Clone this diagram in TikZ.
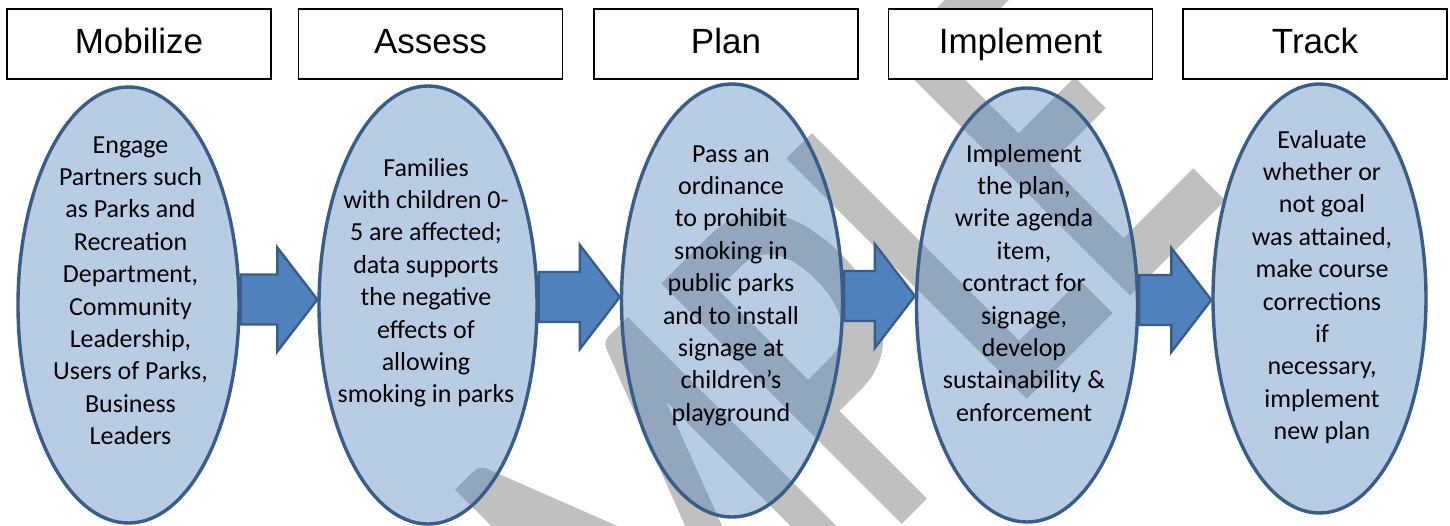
\documentclass[tikz,border=0pt]{standalone}
\usepackage{fontspec}
\setmainfont{Carlito}
\newfontfamily\hdfont{Liberation Sans}
\newfontfamily\wmfont[FakeBold=1.5]{Carlito}
\usetikzlibrary{shapes.geometric,calc}
\definecolor{ellfill}{HTML}{4F81BD}
\definecolor{elledge}{HTML}{385D8A}
\definecolor{wmgray}{HTML}{C0C0C0}
\newcommand{\mlines}[1]{\begin{tabular}[t]{@{}c@{}}#1\end{tabular}}
\newcommand{\blockarr}[3]{\draw[barrow] let \p1=(#1.east), \p2=(#2.west) in
  (\x1,#3-25) -- (\x2-40,#3-25) -- (\x2-40,#3-52) -- (\x2,#3) --
  (\x2-40,#3+52) -- (\x2-40,#3+25) -- (\x1,#3+25) -- cycle;}
\begin{document}
\begin{tikzpicture}[x=1pt,y=-1pt,
  hdbox/.style={draw=black, line width=1.2pt, fill=white, minimum width=264pt, minimum height=70pt, inner sep=0pt},
  hdtext/.style={font=\hdfont\fontsize{35}{40}\selectfont, anchor=base, inner sep=0pt},
  ell/.style={ellipse, draw=elledge, line width=3.4pt, fill=ellfill, fill opacity=0.4, draw opacity=1, inner sep=0pt},
  body/.style={font=\fontsize{26}{32.4}\selectfont, anchor=base, inner sep=0pt},
  barrow/.style={draw=elledge, line width=2.4pt, fill=ellfill, line join=miter},
  wm/.style={font=\wmfont\fontsize{345}{345}\selectfont, text=wmgray, anchor=base west, inner sep=0pt, transform shape}]
\useasboundingbox (0,0) rectangle (1450,525);
\fill[white] (0,0) rectangle (1450,525);
% watermark
\begin{scope}[shift={(423,997)}, rotate=45, yscale=1.5]
\node[wm] (wmark) at (0,0) {SAMPLE};
\end{scope}
% header boxes
\node[hdbox] (b1) at (139,44) {};
\node[hdbox] (b2) at (430.5,44) {};
\node[hdbox] (b3) at (726,44) {};
\node[hdbox] (b4) at (1020.5,44) {};
\node[hdbox] (b5) at (1315,44) {};
\node[hdtext] (t1) at (139,53.5) {Mobilize};
\node[hdtext] (t2) at (430.5,53.5) {Assess};
\node[hdtext] (t3) at (726,53.5) {Plan};
\node[hdtext] (t4) at (1020.5,53.5) {Implement};
\node[hdtext] (t5) at (1315,53.5) {Track};
% ellipses
\node[ell, minimum width=221pt, minimum height=436pt] (e1) at (128.5,305) {};
\node[ell, minimum width=218pt, minimum height=438pt] (e2) at (428,305) {};
\node[ell, minimum width=221pt, minimum height=433pt] (e3) at (732,300.5) {};
\node[ell, minimum width=221pt, minimum height=434pt] (e4) at (1027,305) {};
\node[ell, minimum width=213pt, minimum height=429pt] (e5) at (1319.5,298.5) {};
% arrows
\blockarr{e1}{e2}{299.5}
\blockarr{e2}{e3}{297}
\blockarr{e3}{e4}{296}
\blockarr{e4}{e5}{300}
% texts
\node[body] (x1) at (130.5,153) {\mlines{Engage\\Partners such\\as Parks and\\Recreation\\Department,\\Community\\Leadership,\\Users of Parks,\\Business\\Leaders}};
\node[body] (x2) at (426,176) {\mlines{Families\\with children 0-\\5 are affected;\\data supports\\the negative\\effects of\\allowing\\smoking in parks}};
\node[body] (x3) at (731,162) {\mlines{Pass an\\ordinance\\to prohibit\\smoking in\\public parks\\and to install\\signage at\\children’s\\playground}};
\node[body] (x4) at (1024,162) {\mlines{Implement\\the plan,\\write agenda\\item,\\contract for\\signage,\\develop\\sustainability \&\\enforcement}};
\node[body] (x5) at (1322,148) {\mlines{Evaluate\\whether or\\not goal\\was attained,\\make course\\corrections\\if\\necessary,\\implement\\new plan}};
\end{tikzpicture}
\end{document}
